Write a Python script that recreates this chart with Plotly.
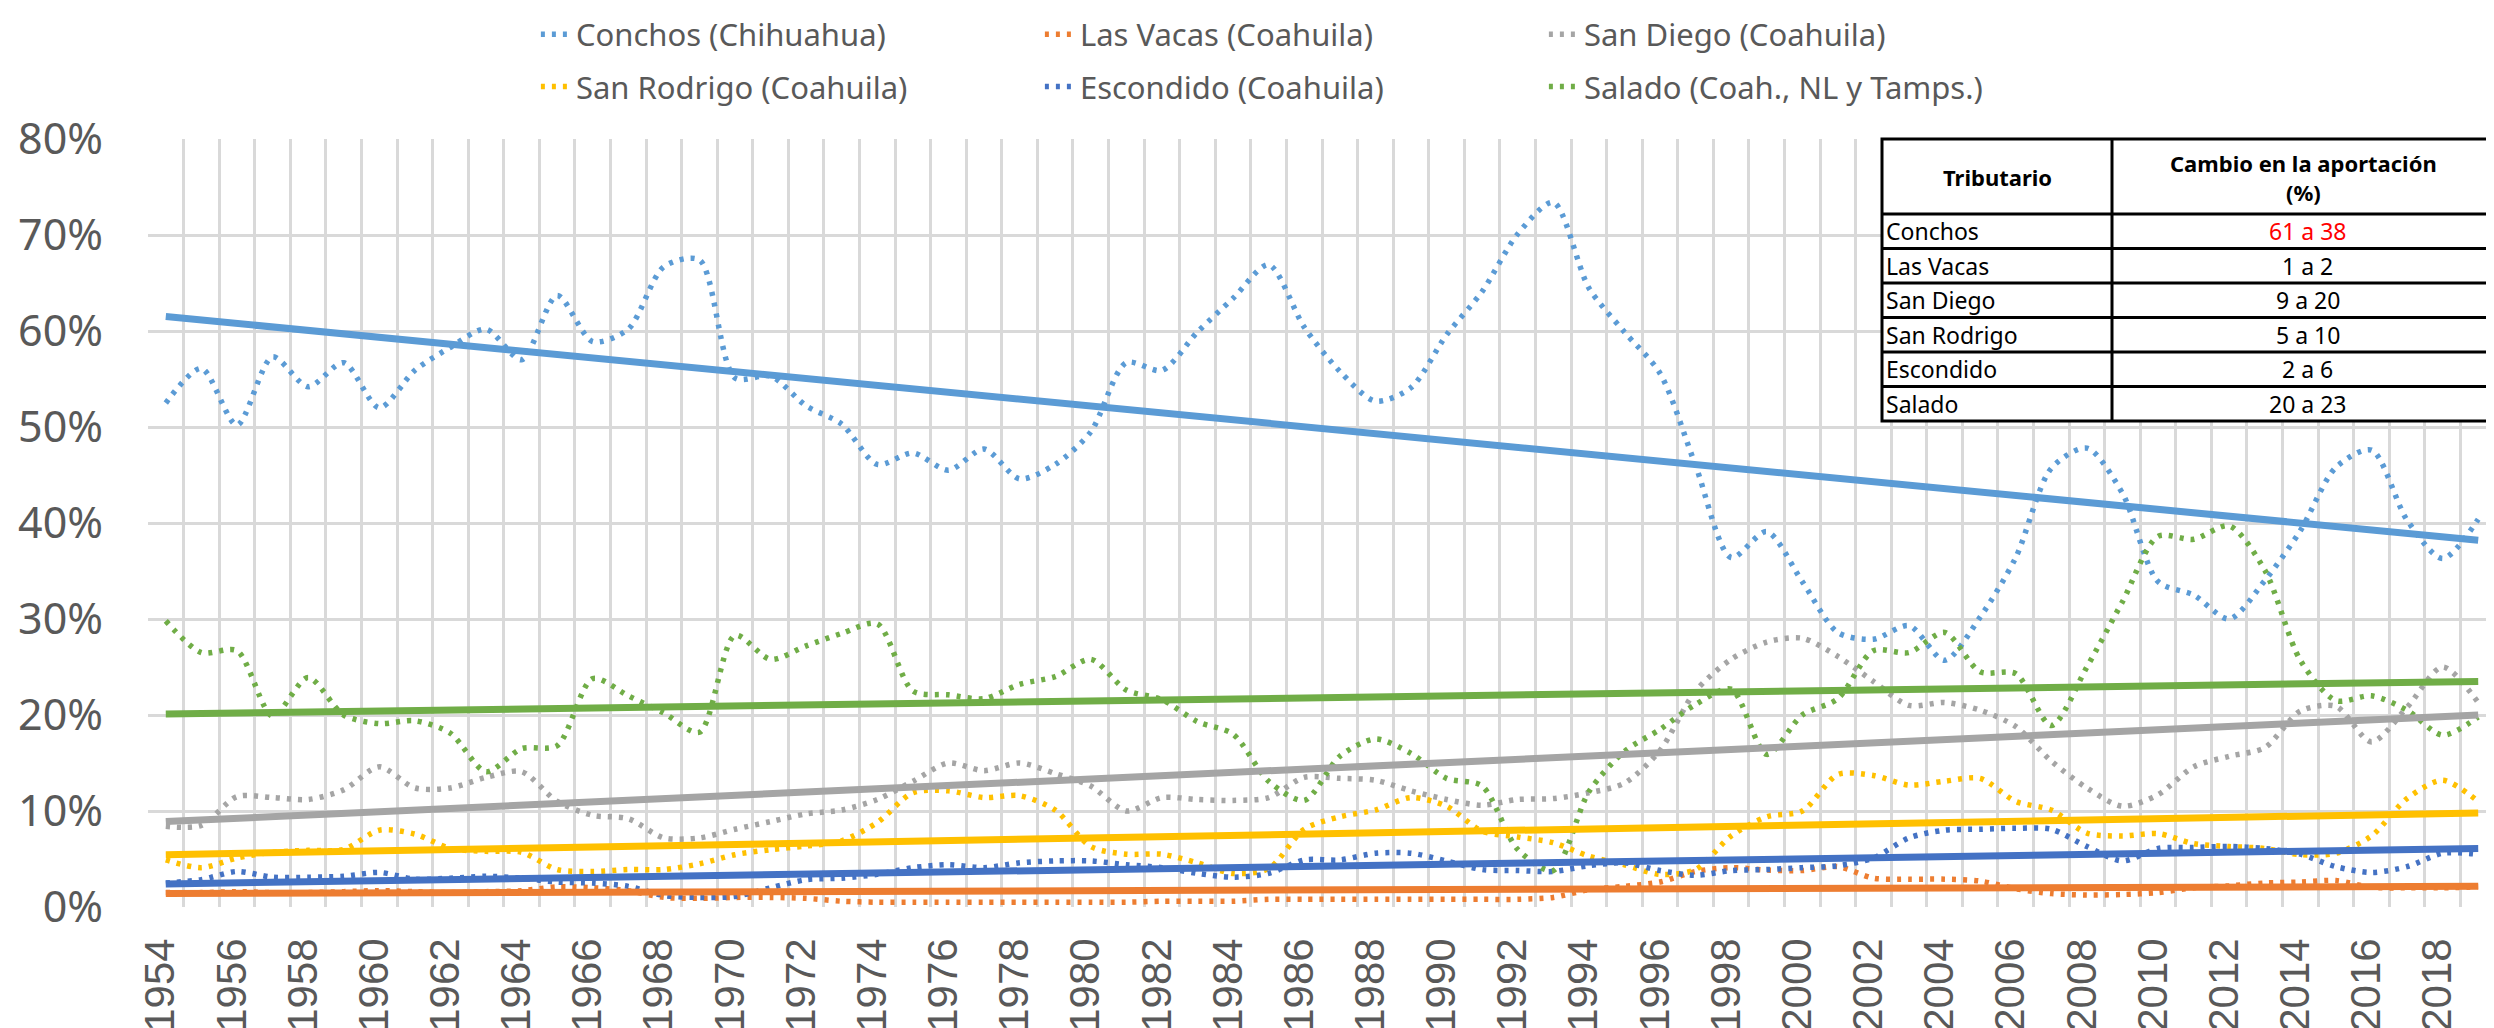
import plotly.graph_objects as go

years = list(range(1954, 2020))
tick_years = list(range(1954, 2019, 2))
tick_labels = [str(y) for y in tick_years]
grid_bounds = [y - 0.5 for y in range(1954, 2021)]
y_ticks = [0, 10, 20, 30, 40, 50, 60, 70, 80]
y_tick_labels = ["0%", "10%", "20%", "30%", "40%", "50%", "60%", "70%", "80%"]

conchos = [52.5, 56.1, 50.2, 57.3, 54.2, 56.7, 52.0, 55.9, 58.3, 60.2,
           57.0, 63.7, 58.9, 60.2, 66.7, 67.4, 55.1, 55.3, 52.2, 50.3,
           46.1, 47.3, 45.5, 47.7, 44.6, 46.1, 49.5, 56.7, 55.9, 59.9,
           63.4, 66.9, 60.4, 55.8, 52.7, 54.1, 59.6, 64.1, 70.1, 73.4,
           64.5, 59.9, 55.6, 46.0, 36.4, 39.1, 33.9, 28.6, 27.9, 29.3,
           25.7, 30.2, 36.4, 45.7, 47.8, 43.1, 33.9, 32.5, 30.0, 34.0,
           39.2, 45.8, 47.6, 40.3, 36.3, 40.4]
las_vacas = [1.5, 1.5, 1.6, 1.5, 1.5, 1.6, 1.7, 1.6, 1.5, 1.6,
             1.7, 2.1, 2.0, 1.7, 1.0, 0.9, 1.0, 1.0, 0.9, 0.6,
             0.5, 0.5, 0.5, 0.5, 0.5, 0.5, 0.5, 0.5, 0.6, 0.6,
             0.6, 0.8, 0.8, 0.8, 0.8, 0.8, 0.8, 0.8, 0.8, 1.0,
             1.8, 2.15, 2.6, 3.7, 4.1, 3.85, 3.8, 4.2, 3.0, 2.9,
             2.9, 2.7, 1.9, 1.4, 1.25, 1.3, 1.5, 2.0, 2.2, 2.5,
             2.6, 2.75, 2.05, 2.0, 2.0, 2.1]
san_diego = [8.4, 8.5, 11.5, 11.4, 11.2, 12.2, 14.6, 12.4, 12.4, 13.5,
             14.1, 11.0, 9.55, 9.2, 7.2, 7.2, 8.1, 8.9, 9.7, 10.1,
             11.2, 13.1, 15.0, 14.2, 15.0, 13.9, 12.6, 10.0, 11.4, 11.2,
             11.1, 11.4, 13.5, 13.4, 13.2, 12.1, 11.2, 10.6, 11.2, 11.3,
             11.9, 12.9, 16.3, 22.5, 25.8, 27.6, 28.0, 26.1, 23.5, 21.0,
             21.3, 20.5, 18.8, 15.2, 12.4, 10.5, 11.7, 14.6, 15.7, 16.6,
             20.4, 20.9, 17.2, 20.8, 25.0, 21.3]
san_rodrigo = [4.9, 4.1, 5.1, 5.7, 5.9, 6.0, 8.0, 7.6, 6.1, 5.8,
               5.7, 3.9, 3.7, 3.9, 3.9, 4.5, 5.45, 5.97, 6.35, 6.9,
               8.8, 11.9, 12.1, 11.4, 11.6, 10.1, 6.3, 5.5, 5.5, 4.6,
               3.5, 4.0, 8.1, 9.4, 10.1, 11.4, 10.5, 7.9, 7.3, 6.7,
               5.3, 4.4, 3.4, 3.9, 7.4, 9.4, 10.0, 13.8, 13.7, 12.7,
               13.1, 13.4, 11.0, 10.1, 7.7, 7.4, 7.65, 6.6, 6.3, 6.1,
               5.45, 5.6, 7.4, 11.3, 13.2, 11.0]
escondido = [2.5, 2.85, 3.7, 3.1, 3.1, 3.2, 3.6, 2.9, 3.0, 3.2,
             3.0, 2.6, 2.5, 2.15, 1.2, 1.0, 1.1, 2.0, 2.85, 3.0,
             3.4, 4.1, 4.4, 4.1, 4.6, 4.8, 4.8, 4.4, 4.1, 3.5,
             3.1, 3.5, 4.9, 4.9, 5.6, 5.6, 4.8, 3.9, 3.8, 3.7,
             4.3, 4.6, 3.8, 3.3, 3.8, 3.9, 4.1, 4.3, 5.1, 7.2,
             8.0, 8.1, 8.2, 8.1, 6.3, 4.8, 6.1, 6.2, 6.3, 6.1,
             5.5, 4.2, 3.6, 4.2, 5.6, 5.5]
salado = [29.8, 26.5, 26.7, 19.9, 23.9, 20.0, 19.1, 19.4, 18.1, 14.1,
          16.5, 16.8, 23.8, 22.0, 20.2, 18.2, 28.3, 25.8, 27.2, 28.5,
          29.5, 22.5, 22.1, 21.7, 23.2, 24.0, 25.8, 22.6, 21.6, 19.3,
          18.0, 13.1, 11.1, 15.7, 17.5, 16.0, 13.4, 12.6, 6.0, 3.8,
          12.0, 16.2, 18.5, 21.1, 22.7, 15.9, 20.0, 21.7, 26.7, 26.5,
          28.6, 24.5, 24.3, 18.9, 25.0, 31.8, 38.6, 38.3, 39.7, 35.1,
          25.7, 21.5, 22.0, 20.5, 17.9, 19.8]

series_names = ["Conchos (Chihuahua)", "Las Vacas (Coahuila)", "San Diego (Coahuila)",
                "San Rodrigo (Coahuila)", "Escondido (Coahuila)", "Salado (Coah., NL y Tamps.)"]
series_values = [conchos, las_vacas, san_diego, san_rodrigo, escondido, salado]
series_colors = ["#5B9BD5", "#ED7D31", "#A5A5A5", "#FFC000", "#4472C4", "#70AD47"]
legend_ids = ["legend", "legend", "legend", "legend2", "legend2", "legend2"]

# linear trend lines (values read at first and last year)
trend_start = [61.5, 1.4, 8.9, 5.45, 2.4, 20.1]
trend_end = [38.2, 2.15, 20.0, 9.8, 6.1, 23.5]

table_tributario = ["Conchos", "Las Vacas", "San Diego", "San Rodrigo", "Escondido", "Salado"]
table_cambio = ["61 a 38", "1 a 2", "9 a 20", "5 a 10", "2 a 6", "20 a 23"]
table_cambio_colors = ["#FF0000", "black", "black", "black", "black", "black"]
table_header_1 = "Tributario"
table_header_2 = "Cambio en la aportación<br>(%)"

FONT = "Noto Sans"
GRID = "#D9D9D9"
TXT = "#595959"

# plot area geometry in pixels (for placing the table overlay)
W, H = 2494, 1028
ML, MR, MT, MB = 140, 6, 131, 129
PW, PH = W - ML - MR, H - MT - MB


def px(x):
    return (x - ML) / PW


def py(y):
    return 1 - (y - MT) / PH


fig = go.Figure()
for name, vals, color, leg in zip(series_names, series_values, series_colors, legend_ids):
    fig.add_trace(go.Scatter(
        x=years, y=vals, mode="lines", name=name, legend=leg,
        line=dict(color=color, width=5.5, dash="4px,7px", shape="spline", smoothing=0.8),
        hoverinfo="x+y+name"))

for s, e, color in zip(trend_start, trend_end, series_colors):
    fig.add_trace(go.Scatter(
        x=[years[0], years[-1]], y=[s, e], mode="lines", showlegend=False,
        line=dict(color=color, width=7), hoverinfo="skip"))

# ---- table overlay (shapes + text) ----
tx0, tx1, tx2 = 1874, 2104, 2487
ty_top, ty_head = 131, 206
row_h = 34.5
n_rows = len(table_tributario)
ty_bot = ty_head + row_h * n_rows
shapes = [dict(type="rect", xref="paper", yref="paper", layer="above",
               x0=px(tx0), x1=px(tx2), y0=py(ty_bot), y1=py(ty_top),
               fillcolor="white", line=dict(color="black", width=3))]
shapes.append(dict(type="line", xref="paper", yref="paper", layer="above",
                   x0=px(tx1), x1=px(tx1), y0=py(ty_bot), y1=py(ty_top),
                   line=dict(color="black", width=3)))
for k in range(n_rows):
    yy = ty_head + row_h * k
    shapes.append(dict(type="line", xref="paper", yref="paper", layer="above",
                       x0=px(tx0), x1=px(tx2), y0=py(yy), y1=py(yy),
                       line=dict(color="black", width=3)))

annotations = [
    dict(text="<b>" + table_header_1 + "</b>", x=px((tx0 + tx1) / 2), y=py((ty_top + ty_head) / 2),
         xref="paper", yref="paper", showarrow=False, xanchor="center", yanchor="middle",
         font=dict(family=FONT, size=22, color="black")),
    dict(text="<b>" + table_header_2.replace("<br>", "</b><br><b>") + "</b>",
         x=px((tx1 + tx2) / 2), y=py((ty_top + ty_head) / 2 + 1),
         xref="paper", yref="paper", showarrow=False, xanchor="center", yanchor="middle",
         align="center", font=dict(family=FONT, size=22, color="black")),
]
for k, (trib, camb, col) in enumerate(zip(table_tributario, table_cambio, table_cambio_colors)):
    yc = ty_head + row_h * (k + 0.5)
    annotations.append(dict(text=trib, x=px(tx0 + 2), y=py(yc), xref="paper", yref="paper",
                            showarrow=False, xanchor="left", yanchor="middle",
                            font=dict(family=FONT, size=23, color="black")))
    annotations.append(dict(text=camb, x=px((tx1 + tx2) / 2 + 4), y=py(yc), xref="paper", yref="paper",
                            showarrow=False, xanchor="center", yanchor="middle",
                            font=dict(family=FONT, size=23, color=col)))

fig.update_layout(
    width=W, height=H, template="none",
    paper_bgcolor="white", plot_bgcolor="white",
    margin=dict(l=ML, r=MR, t=MT, b=MB, autoexpand=False),
    showlegend=True,
    shapes=shapes, annotations=annotations,
    xaxis=dict(range=[1953.5, 2019.5], tickmode="array", tickvals=tick_years, ticktext=tick_labels,
               tickangle=-90, showgrid=False, zeroline=False, showline=False, ticks="",
               tickfont=dict(family="Liberation Sans", size=42, color=TXT),
               ticklabelstandoff=22, ticklabelshift=-5, automargin=False,
               minor=dict(tickmode="array", tickvals=grid_bounds, showgrid=True,
                          gridcolor=GRID, gridwidth=2.5, ticks="")),
    yaxis=dict(range=[0, 80], tickmode="array", tickvals=y_ticks, ticktext=y_tick_labels,
               showgrid=True, gridcolor=GRID, gridwidth=2.5, zeroline=False, showline=False,
               ticks="", tickfont=dict(family=FONT, size=43, color=TXT),
               ticklabelstandoff=44, automargin=False),
    legend=dict(orientation="h", x=0.1652, xanchor="left", y=1.136, yanchor="middle",
                entrywidth=459, entrywidthmode="pixels",
                font=dict(family=FONT, size=31, color=TXT), bgcolor="rgba(0,0,0,0)"),
    legend2=dict(orientation="h", x=0.1652, xanchor="left", y=1.068, yanchor="middle",
                 entrywidth=459, entrywidthmode="pixels",
                 font=dict(family=FONT, size=31, color=TXT), bgcolor="rgba(0,0,0,0)"),
)

fig.write_html("out.html")
